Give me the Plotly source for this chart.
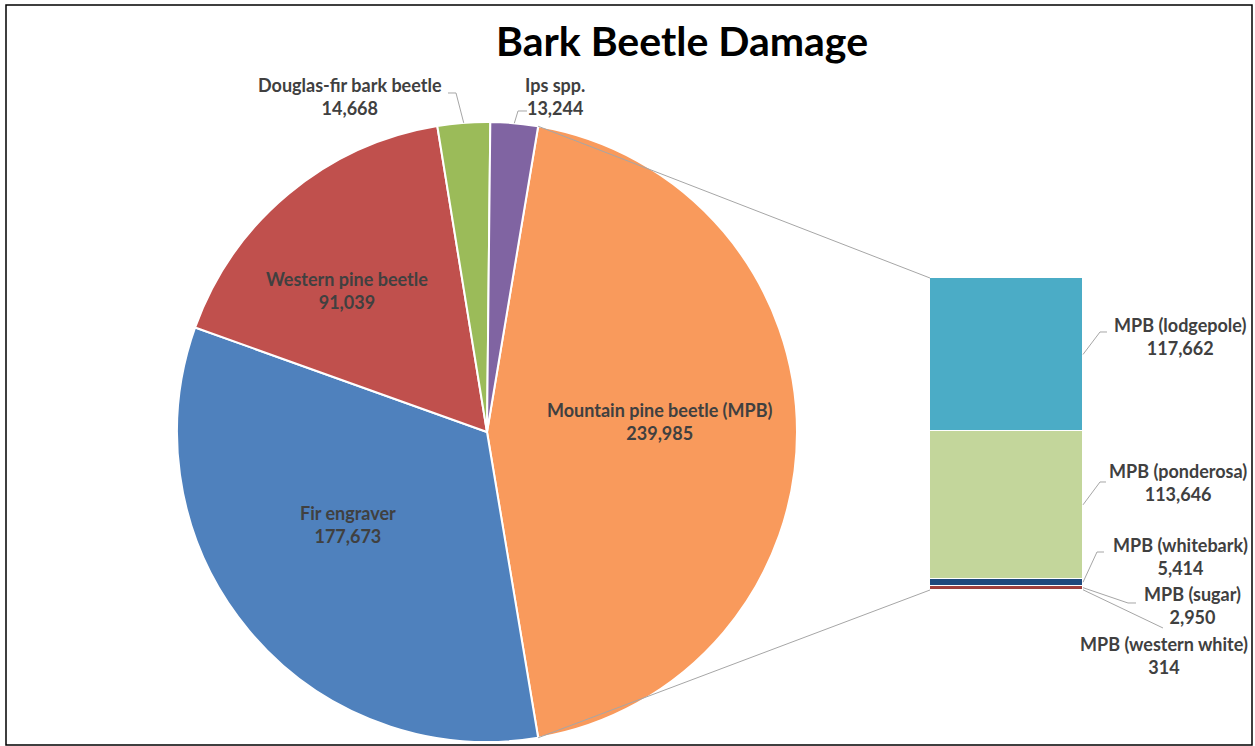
import math
import plotly.graph_objects as go

# ---------------- data ----------------
pie_labels = ["Mountain pine beetle (MPB)", "Fir engraver", "Western pine beetle",
              "Douglas-fir bark beetle", "Ips spp."]
pie_values = [239985, 177673, 91039, 14668, 13244]

bar_labels = ["MPB (western white)", "MPB (sugar)", "MPB (whitebark)",
              "MPB (ponderosa)", "MPB (lodgepole)"]          # bottom -> top
bar_values = [314, 2950, 5414, 113646, 117662]

title_text = "Bark Beetle Damage"

# ---------------- styles / layout constants ----------------
pie_colors = ["#F99A5C", "#4F81BD", "#C0504D", "#9BBB59", "#8064A2"]
bar_colors = ["#7F6084", "#A0403D", "#1F497D", "#C3D69B", "#4BACC6"]

W, H = 1255, 746
PIE_CX, PIE_CY, PIE_R = 487, 432, 310        # pixels
BAR_X0, BAR_X1, BAR_Y0, BAR_Y1 = 930, 1083, 278, 590   # pixels (top, bottom)
FONT = "Lato"
LABEL_SIZE = 18
LABEL_COLOR = "#404040"
LEADER_COLOR = "#A6A6A6"

# label centres (pixels)
pie_label_pos = [(660, 421), (348, 524), (347, 290), (350, 97), (555, 97)]
bar_label_pos = [(1164, 655), (1192, 605), (1180, 556), (1178, 482), (1180, 336)]
# leader bend points (pixels) ; None = no leader
pie_leader_pts = [None, None, None, [(456, 93), (448, 93)], [(518, 111), (527, 111)]]
bar_leader_pts = [[(1163, 628)], [(1128, 603), (1136, 603)], [(1097, 552), (1104, 552)],
                  [(1100, 482), (1106, 482)], [(1100, 332), (1107, 332)]]


def px(x):
    return x / W


def py(y):
    return 1 - y / H


pie_total = sum(pie_values)
bar_total = sum(bar_values)
# Excel "pie of bar": split slice is centred at 3 o'clock
split_span = pie_values[0] / pie_total * 360.0
rotation = 90.0 - split_span / 2.0

fig = go.Figure()

fig.add_trace(go.Pie(
    labels=pie_labels, values=pie_values, sort=False, direction="clockwise",
    rotation=rotation, textinfo="none", hoverinfo="label+value",
    marker=dict(colors=pie_colors, line=dict(color="white", width=2)),
    domain=dict(x=[px(PIE_CX - PIE_R), px(PIE_CX + PIE_R)],
                y=[py(PIE_CY + PIE_R), py(PIE_CY - PIE_R)]),
    showlegend=False,
))

for lab, val, col in zip(bar_labels, bar_values, bar_colors):
    fig.add_trace(go.Bar(
        x=["MPB"], y=[val], name=lab, marker=dict(color=col, line=dict(color="white", width=1.5)),
        width=1, showlegend=False, hoverinfo="name+y",
    ))

shapes = []
annotations = []


def pie_point(angle_deg):
    a = math.radians(angle_deg)
    return PIE_CX + PIE_R * math.sin(a), PIE_CY - PIE_R * math.cos(a)


def path_of(points):
    return "M " + " L ".join(f"{px(x):.5f},{py(y):.5f}" for x, y in points)


# series lines from split slice to the bar
sx, sy = pie_point(rotation)
ex, ey = pie_point(rotation + split_span)
for p0, p1 in [((sx, sy), (BAR_X0, BAR_Y0)), ((ex, ey), (BAR_X0, BAR_Y1))]:
    shapes.append(dict(type="line", xref="paper", yref="paper",
                       x0=px(p0[0]), y0=py(p0[1]), x1=px(p1[0]), y1=py(p1[1]),
                       line=dict(color=LEADER_COLOR, width=1)))

# pie labels + leaders
cum = rotation
for lab, val, pos, pts in zip(pie_labels, pie_values, pie_label_pos, pie_leader_pts):
    span = val / pie_total * 360.0
    mid = cum + span / 2
    cum += span
    annotations.append(dict(x=px(pos[0]), y=py(pos[1]), xref="paper", yref="paper",
                            text=f"{lab}<br>{val:,}", showarrow=False,
                            xanchor="center", yanchor="middle", align="center",
                            font=dict(family=FONT, size=LABEL_SIZE, color=LABEL_COLOR, weight=700)))
    if pts:
        start = pie_point(mid)
        shapes.append(dict(type="path", xref="paper", yref="paper",
                           path=path_of([start] + pts),
                           line=dict(color=LEADER_COLOR, width=1)))

# bar labels + leaders
bar_h = BAR_Y1 - BAR_Y0
acc = 0
for lab, val, pos, pts in zip(bar_labels, bar_values, bar_label_pos, bar_leader_pts):
    mid_y = BAR_Y1 - (acc + val / 2) / bar_total * bar_h
    acc += val
    annotations.append(dict(x=px(pos[0]), y=py(pos[1]), xref="paper", yref="paper",
                            text=f"{lab}<br>{val:,}", showarrow=False,
                            xanchor="center", yanchor="middle", align="center",
                            font=dict(family=FONT, size=LABEL_SIZE, color=LABEL_COLOR, weight=700)))
    shapes.append(dict(type="path", xref="paper", yref="paper",
                       path=path_of([(BAR_X1, mid_y)] + pts),
                       line=dict(color=LEADER_COLOR, width=1)))

# title
annotations.append(dict(x=px(682), y=py(40), xref="paper", yref="paper", text=title_text,
                        showarrow=False, xanchor="center", yanchor="middle",
                        font=dict(family=FONT, size=41, color="#000000", weight=700)))

# chart border
shapes.append(dict(type="rect", xref="paper", yref="paper",
                   x0=px(6), y0=py(745), x1=px(1252), y1=py(5),
                   line=dict(color="#000000", width=1.5), fillcolor="rgba(0,0,0,0)"))

fig.update_layout(
    width=W, height=H, margin=dict(l=0, r=0, t=0, b=0),
    paper_bgcolor="white", plot_bgcolor="white",
    barmode="stack", bargap=0,
    xaxis=dict(domain=[px(BAR_X0), px(BAR_X1)], range=[-0.5, 0.5], visible=False,
               fixedrange=True),
    yaxis=dict(domain=[py(BAR_Y1), py(BAR_Y0)], range=[0, bar_total], visible=False,
               fixedrange=True),
    shapes=shapes, annotations=annotations,
    font=dict(family=FONT),
)

fig.write_html("out.html")
